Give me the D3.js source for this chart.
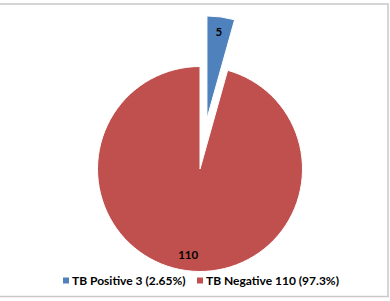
<!DOCTYPE html>
<html>
<head>
<meta charset="utf-8">
<script src="https://cdn.jsdelivr.net/npm/d3@7"></script>
<style>
  body { margin: 0; background: #fff; }
  svg { display: block; font-family: Lato, "Open Sans", sans-serif; }
</style>
</head>
<body>
<script>
// chart data
var sliceNames = ["TB Positive", "TB Negative"];
var sliceValues = [5, 110];
var legendLabels = ["TB Positive 3 (2.65%)", "TB Negative 110 (97.3%)"];
var sliceColors = ["#4F81BD", "#C0504D"];

var width = 390, height = 301;
var cx = 200, cy = 169, radius = 102.5;
var explode = [51, 0];

var svg = d3.select("body").append("svg")
    .attr("width", width)
    .attr("height", height);

// chart frame
svg.append("rect")
    .attr("x", -1)
    .attr("y", 4)
    .attr("width", 389)
    .attr("height", 292.5)
    .attr("fill", "none")
    .attr("stroke", "#C8C8C8")
    .attr("stroke-width", 1.5);

var pie = d3.pie().sort(null).value(function (d) { return d; });
var arcs = pie(sliceValues);

var arc = d3.arc().innerRadius(0).outerRadius(radius);
var labelArc = d3.arc().innerRadius(radius * 0.85).outerRadius(radius * 0.85);

var g = svg.append("g")
    .attr("transform", "translate(" + cx + "," + cy + ")");

var slice = g.selectAll(".slice")
    .data(arcs)
    .enter().append("g")
    .attr("class", "slice")
    .attr("transform", function (d, i) {
        var a = (d.startAngle + d.endAngle) / 2;
        return "translate(" + (Math.sin(a) * explode[i]) + "," + (-Math.cos(a) * explode[i]) + ")";
    });

slice.append("path")
    .attr("d", arc)
    .attr("fill", function (d, i) { return sliceColors[i]; })
    .attr("stroke", "#fff")
    .attr("stroke-width", 1);

slice.append("text")
    .attr("transform", function (d) { return "translate(" + labelArc.centroid(d) + ")"; })
    .attr("text-anchor", "middle")
    .attr("dy", "0.35em")
    .style("font-size", "11.5px")
    .style("font-weight", "bold")
    .attr("fill", "#000")
    .text(function (d) { return d.data; });

// legend
var legendX = [63, 197];
var legend = svg.selectAll(".legend")
    .data(legendLabels)
    .enter().append("g")
    .attr("class", "legend")
    .attr("transform", function (d, i) { return "translate(" + legendX[i] + ",281)"; });

legend.append("rect")
    .attr("x", 0)
    .attr("y", -3.5)
    .attr("width", 6)
    .attr("height", 6)
    .attr("fill", function (d, i) { return sliceColors[i]; });

legend.append("text")
    .attr("x", 9)
    .attr("dy", "0.35em")
    .style("font-size", "12px")
    .style("font-weight", "bold")
    .attr("fill", "#000")
    .text(function (d) { return d; });
</script>
</body>
</html>
